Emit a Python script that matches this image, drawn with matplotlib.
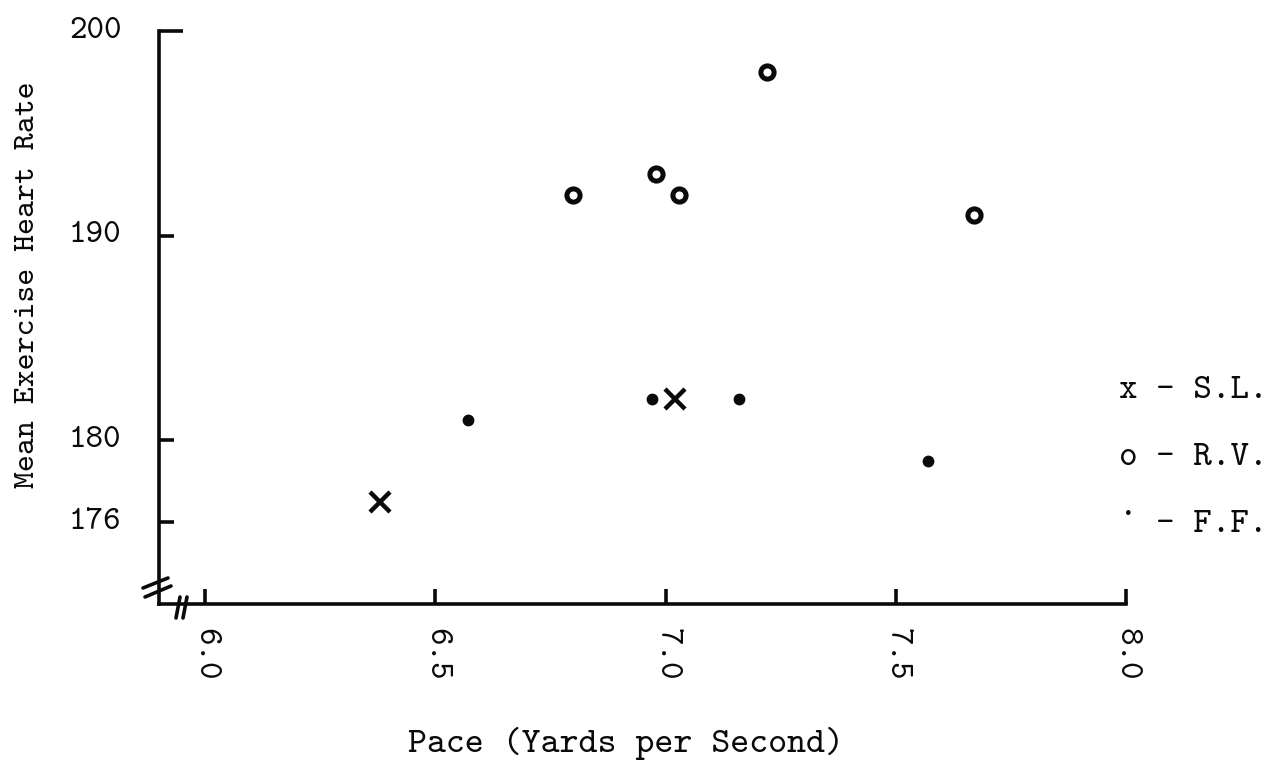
import matplotlib
matplotlib.use("Agg")
import matplotlib.pyplot as plt
from matplotlib.lines import Line2D

# Pace (yards per second) vs mean exercise heart rate for three runners
sl_pace = [6.38, 7.02]
sl_rate = [177, 182]

rv_pace = [6.80, 6.98, 7.03, 7.22, 7.67]
rv_rate = [192, 193, 192, 198, 191]

ff_pace = [6.57, 6.97, 7.16, 7.57]
ff_rate = [181, 182, 182, 179]

x_ticks = [6.0, 6.5, 7.0, 7.5, 8.0]
x_ticklabels = ["6.0", "6.5", "7.0", "7.5", "8.0"]
y_ticks = [176, 180, 190, 200]
y_ticklabels = ["176", "180", "190", "200"]

key_symbols = ["x", "o", "."]
key_names = ["- S.L.", "- R.V.", "- F.F."]

W, H = 1270, 761
ink = "#0a0a0a"

# typewriter face
TYPE = dict(fontfamily="cmtt10", color=ink)

fig = plt.figure(figsize=(W / 100, H / 100), dpi=100)
fig.patch.set_facecolor("white")
ax = fig.add_axes([159 / W, 157 / H, 967 / W, 573 / H])

ax.plot(sl_pace, sl_rate, linestyle="none", marker="x", markersize=15,
        markeredgewidth=3.2, color=ink, clip_on=False)
ax.plot(rv_pace, rv_rate, linestyle="none", marker="o", markersize=9.5,
        markeredgewidth=3.6, markerfacecolor="white", markeredgecolor=ink,
        clip_on=False)
ax.plot(ff_pace, ff_rate, linestyle="none", marker="o", markersize=8.5,
        markeredgewidth=0, markerfacecolor=ink, clip_on=False)

ax.set_xlim(5.9, 8.0)
ax.set_ylim(172, 200)

for side in ("top", "right"):
    ax.spines[side].set_visible(False)
for side in ("left", "bottom"):
    ax.spines[side].set_linewidth(2.6)
    ax.spines[side].set_color(ink)
    ax.spines[side].set_capstyle("projecting")

ax.set_xticks(x_ticks)
ax.set_xticklabels(x_ticklabels, rotation=270, fontsize=24, **TYPE)
ax.set_yticks(y_ticks)
ax.set_yticklabels(y_ticklabels, fontsize=24, **TYPE)
ax.tick_params(axis="x", direction="in", length=11, width=2.6, pad=17,
               colors=ink)
ax.tick_params(axis="y", direction="in", length=11, width=2.6, pad=27,
               colors=ink)
# the top tick is drawn as a longer cap
ax.yaxis.get_major_ticks()[-1].tick1line.set_markersize(17)
for lbl in ax.get_yticklabels():
    lbl.set_verticalalignment("center")

# axis titles
fig.text(28 / W, 1 - 285 / H, "Mean Exercise Heart Rate", rotation=90,
         ha="center", va="center", fontsize=23.2, **TYPE)
fig.text(626 / W, 1 - 752 / H, "Pace (Yards per Second)", ha="center",
         va="baseline", fontsize=26, **TYPE)

# typed key on the right
key_baselines = [398, 465, 532]
for sym, name, base in zip(key_symbols, key_names, key_baselines):
    sym_base = base - 17 if sym == "." else base
    fig.text(1128 / W, 1 - sym_base / H, sym, ha="center", va="baseline",
             fontsize=25.5, **TYPE)
    fig.text(1156 / W, 1 - base / H, name, ha="left", va="baseline",
             fontsize=25.5, **TYPE)

# axis break marks at the origin
breaks = [
    ((143, 588), (168, 578)),
    ((145, 597), (171, 586)),
    ((180, 597), (176, 618)),
    ((187, 597), (183, 618)),
]
for (x0, y0), (x1, y1) in breaks:
    fig.add_artist(Line2D([x0 / W, x1 / W], [1 - y0 / H, 1 - y1 / H],
                          transform=fig.transFigure, color=ink,
                          linewidth=2.6, solid_capstyle="round"))

fig.savefig("out.png", dpi=100, facecolor="white")
